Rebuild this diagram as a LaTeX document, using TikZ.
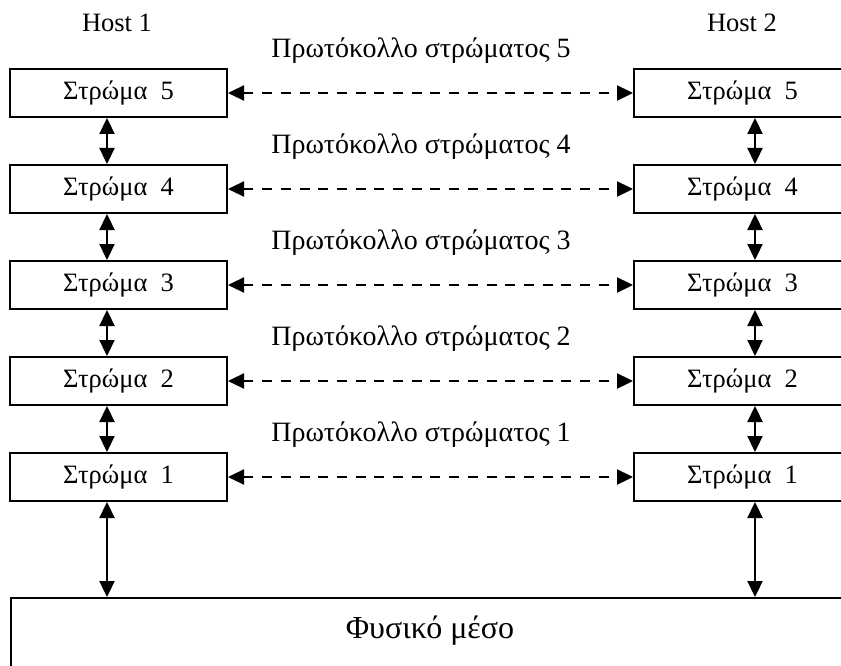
\documentclass[tikz,border=0pt]{standalone}
\usepackage{fontspec}
\setmainfont{Liberation Serif}
\usetikzlibrary{arrows.meta}
\usetikzlibrary{positioning}

\begin{document}
\begin{tikzpicture}[x=1pt,y=-1pt,>={Triangle[length=16pt,width=15pt]},
    layer node/.style={draw,line width=2pt,minimum width=217pt,minimum height=48pt,inner sep=0pt,font=\fontsize{26.5}{31}\selectfont},
    text node/.style={inner sep=0pt,font=\fontsize{26.5}{31}\selectfont},
    proto node/.style={inner sep=0pt,font=\fontsize{28}{33}\selectfont},
    updown/.style={<->,line width=2.3pt},
    peer/.style={<->,line width=2.3pt,dash pattern=on 10pt off 8.7pt}]
   \clip (0,0) rectangle (841,666);
   \useasboundingbox (0,0) rectangle (841,666);
   \begin{scope}
      % hosts
      \node[text node] (h1) at (117,23) {Host 1};
      \node[text node] (h2) at (742,23) {Host 2};
      % left stack
      \node[layer node] (l5) at (118.5,93) {Στρώμα~~5};
      \node[layer node] (l4) at (118.5,189) {Στρώμα~~4};
      \node[layer node] (l3) at (118.5,285) {Στρώμα~~3};
      \node[layer node] (l2) at (118.5,381) {Στρώμα~~2};
      \node[layer node] (l1) at (118.5,477) {Στρώμα~~1};
      % right stack
      \node[layer node] (r5) at (742.5,93) {Στρώμα~~5};
      \node[layer node] (r4) at (742.5,189) {Στρώμα~~4};
      \node[layer node] (r3) at (742.5,285) {Στρώμα~~3};
      \node[layer node] (r2) at (742.5,381) {Στρώμα~~2};
      \node[layer node] (r1) at (742.5,477) {Στρώμα~~1};
      % protocols
      \node[proto node] (p5) at (421,51) {Πρωτόκολλο στρώματος 5};
      \node[proto node] (p4) at (421,147) {Πρωτόκολλο στρώματος 4};
      \node[proto node] (p3) at (421,243) {Πρωτόκολλο στρώματος 3};
      \node[proto node] (p2) at (421,339) {Πρωτόκολλο στρώματος 2};
      \node[proto node] (p1) at (421,435) {Πρωτόκολλο στρώματος 1};
      % medium
      \node[draw,line width=2pt,anchor=north west,minimum width=841pt,minimum height=110pt] (phys) at (10,597) {};
      \node[text node,font=\fontsize{32}{38}\selectfont] (physlbl) at (430,631) {Φυσικό μέσο};
       \path[peer] (l5) edge (r5);
       \path[peer] (l4) edge (r4);
       \path[peer] (l3) edge (r3);
       \path[peer] (l2) edge (r2);
       \path[peer] (l1) edge (r1);
       \draw[updown] ([xshift=-11.5pt]l5.south) -- ([xshift=-11.5pt]l4.north);
       \draw[updown] ([xshift=-11.5pt]l4.south) -- ([xshift=-11.5pt]l3.north);
       \draw[updown] ([xshift=-11.5pt]l3.south) -- ([xshift=-11.5pt]l2.north);
       \draw[updown] ([xshift=-11.5pt]l2.south) -- ([xshift=-11.5pt]l1.north);
       \draw[updown] ([xshift=12.5pt]r5.south) -- ([xshift=12.5pt]r4.north);
       \draw[updown] ([xshift=12.5pt]r4.south) -- ([xshift=12.5pt]r3.north);
       \draw[updown] ([xshift=12.5pt]r3.south) -- ([xshift=12.5pt]r2.north);
       \draw[updown] ([xshift=12.5pt]r2.south) -- ([xshift=12.5pt]r1.north);
       \draw[updown] ([xshift=-11.5pt]l1.south) -- ([xshift=-11.5pt]l1.south |- phys.north);
       \draw[updown] ([xshift=12.5pt]r1.south) -- ([xshift=12.5pt]r1.south |- phys.north);
   \end{scope}
\end{tikzpicture}
\end{document}
